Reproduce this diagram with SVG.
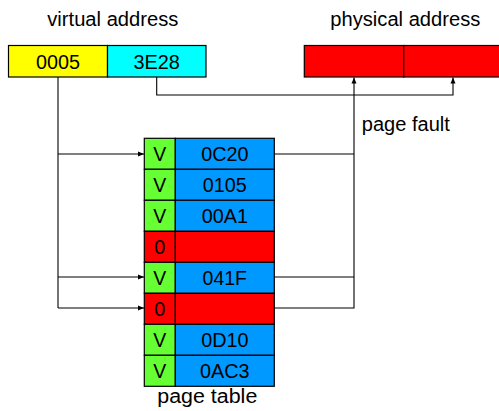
<svg xmlns="http://www.w3.org/2000/svg" width="499" height="411" viewBox="0 0 499 411">
<defs>
<style>
text{font-family:"Liberation Sans",Arial,sans-serif;font-size:19.5px;fill:#000;text-anchor:middle}
.b{stroke:#000;stroke-width:1.2}
.y{fill:#FFFF00}.c{fill:#00FFFF}.r{fill:#FF0000}.g{fill:#66FF33}.u{fill:#0099FF}
.ln{fill:none;stroke:#000;stroke-width:1.1}
</style>
<marker id="ah" viewBox="0 0 6 6" refX="6" refY="3" markerWidth="6" markerHeight="6" markerUnits="userSpaceOnUse" orient="auto">
<path d="M0,0.5 L6,3 L0,5.5 Z" fill="#000"/>
</marker>
</defs>
<rect width="499" height="411" fill="#fff"/>

<g id="labels">
<text x="112.8" y="26" textLength="131" lengthAdjust="spacingAndGlyphs">virtual address</text>
<text x="405.3" y="26" textLength="150" lengthAdjust="spacingAndGlyphs">physical address</text>
<text x="405.8" y="131" textLength="88" lengthAdjust="spacingAndGlyphs">page fault</text>
<text x="207.3" y="403" textLength="100" lengthAdjust="spacingAndGlyphs">page table</text>
</g>

<g id="virtual-address">
<rect class="b y" x="8.5" y="45.5" width="99" height="31.5"/>
<rect class="b c" x="107.5" y="45.5" width="98.5" height="31.5"/>
<text x="58" y="68.5" textLength="44" lengthAdjust="spacingAndGlyphs">0005</text>
<text x="156.7" y="68.5" textLength="46.5" lengthAdjust="spacingAndGlyphs">3E28</text>
</g>

<g id="physical-address">
<rect class="b r" x="304.3" y="45.5" width="99.4" height="31.5"/>
<rect class="b r" x="403.7" y="45.5" width="100" height="31.5"/>
</g>

<g id="page-table">
<g id="row1"><rect class="b g" x="144.3" y="138.3" width="31" height="31"/><rect class="b u" x="175.3" y="138.3" width="99" height="31"/><text x="159.8" y="160.8" textLength="13" lengthAdjust="spacingAndGlyphs">V</text><text x="224.8" y="160.8" textLength="47.3" lengthAdjust="spacingAndGlyphs">0C20</text></g>
<g id="row2"><rect class="b g" x="144.3" y="169.3" width="31" height="31"/><rect class="b u" x="175.3" y="169.3" width="99" height="31"/><text x="159.8" y="191.8" textLength="13" lengthAdjust="spacingAndGlyphs">V</text><text x="224.8" y="191.8" textLength="44" lengthAdjust="spacingAndGlyphs">0105</text></g>
<g id="row3"><rect class="b g" x="144.3" y="200.3" width="31" height="31"/><rect class="b u" x="175.3" y="200.3" width="99" height="31"/><text x="159.8" y="222.8" textLength="13" lengthAdjust="spacingAndGlyphs">V</text><text x="224.8" y="222.8" textLength="46.2" lengthAdjust="spacingAndGlyphs">00A1</text></g>
<g id="row4"><rect class="b r" x="144.3" y="231.3" width="31" height="31"/><rect class="b r" x="175.3" y="231.3" width="99" height="31"/><text x="159.8" y="253.8" textLength="11" lengthAdjust="spacingAndGlyphs">0</text></g>
<g id="row5"><rect class="b g" x="144.3" y="262.3" width="31" height="31"/><rect class="b u" x="175.3" y="262.3" width="99" height="31"/><text x="159.8" y="284.8" textLength="13" lengthAdjust="spacingAndGlyphs">V</text><text x="224.8" y="284.8" textLength="44.5" lengthAdjust="spacingAndGlyphs">041F</text></g>
<g id="row6"><rect class="b r" x="144.3" y="293.3" width="31" height="31"/><rect class="b r" x="175.3" y="293.3" width="99" height="31"/><text x="159.8" y="315.8" textLength="11" lengthAdjust="spacingAndGlyphs">0</text></g>
<g id="row7"><rect class="b g" x="144.3" y="324.3" width="31" height="31"/><rect class="b u" x="175.3" y="324.3" width="99" height="31"/><text x="159.8" y="346.8" textLength="13" lengthAdjust="spacingAndGlyphs">V</text><text x="224.8" y="346.8" textLength="47.3" lengthAdjust="spacingAndGlyphs">0D10</text></g>
<g id="row8"><rect class="b g" x="144.3" y="355.3" width="31" height="31"/><rect class="b u" x="175.3" y="355.3" width="99" height="31"/><text x="159.8" y="377.8" textLength="13" lengthAdjust="spacingAndGlyphs">V</text><text x="224.8" y="377.8" textLength="49.5" lengthAdjust="spacingAndGlyphs">0AC3</text></g>
</g>

<g id="connectors">
<path class="ln" d="M58,77 V308"/>
<path class="ln" d="M58,154 H144" marker-end="url(#ah)"/>
<path class="ln" d="M58,277 H144" marker-end="url(#ah)"/>
<path class="ln" d="M58,308 H144" marker-end="url(#ah)"/>
<path class="ln" d="M156.7,77 V95 H453 V77.5" marker-end="url(#ah)"/>
<path class="ln" d="M274.3,154 H354"/>
<path class="ln" d="M274.3,277 H354"/>
<path class="ln" d="M274.3,308 H354 V77.5" marker-end="url(#ah)"/>
</g>
</svg>
